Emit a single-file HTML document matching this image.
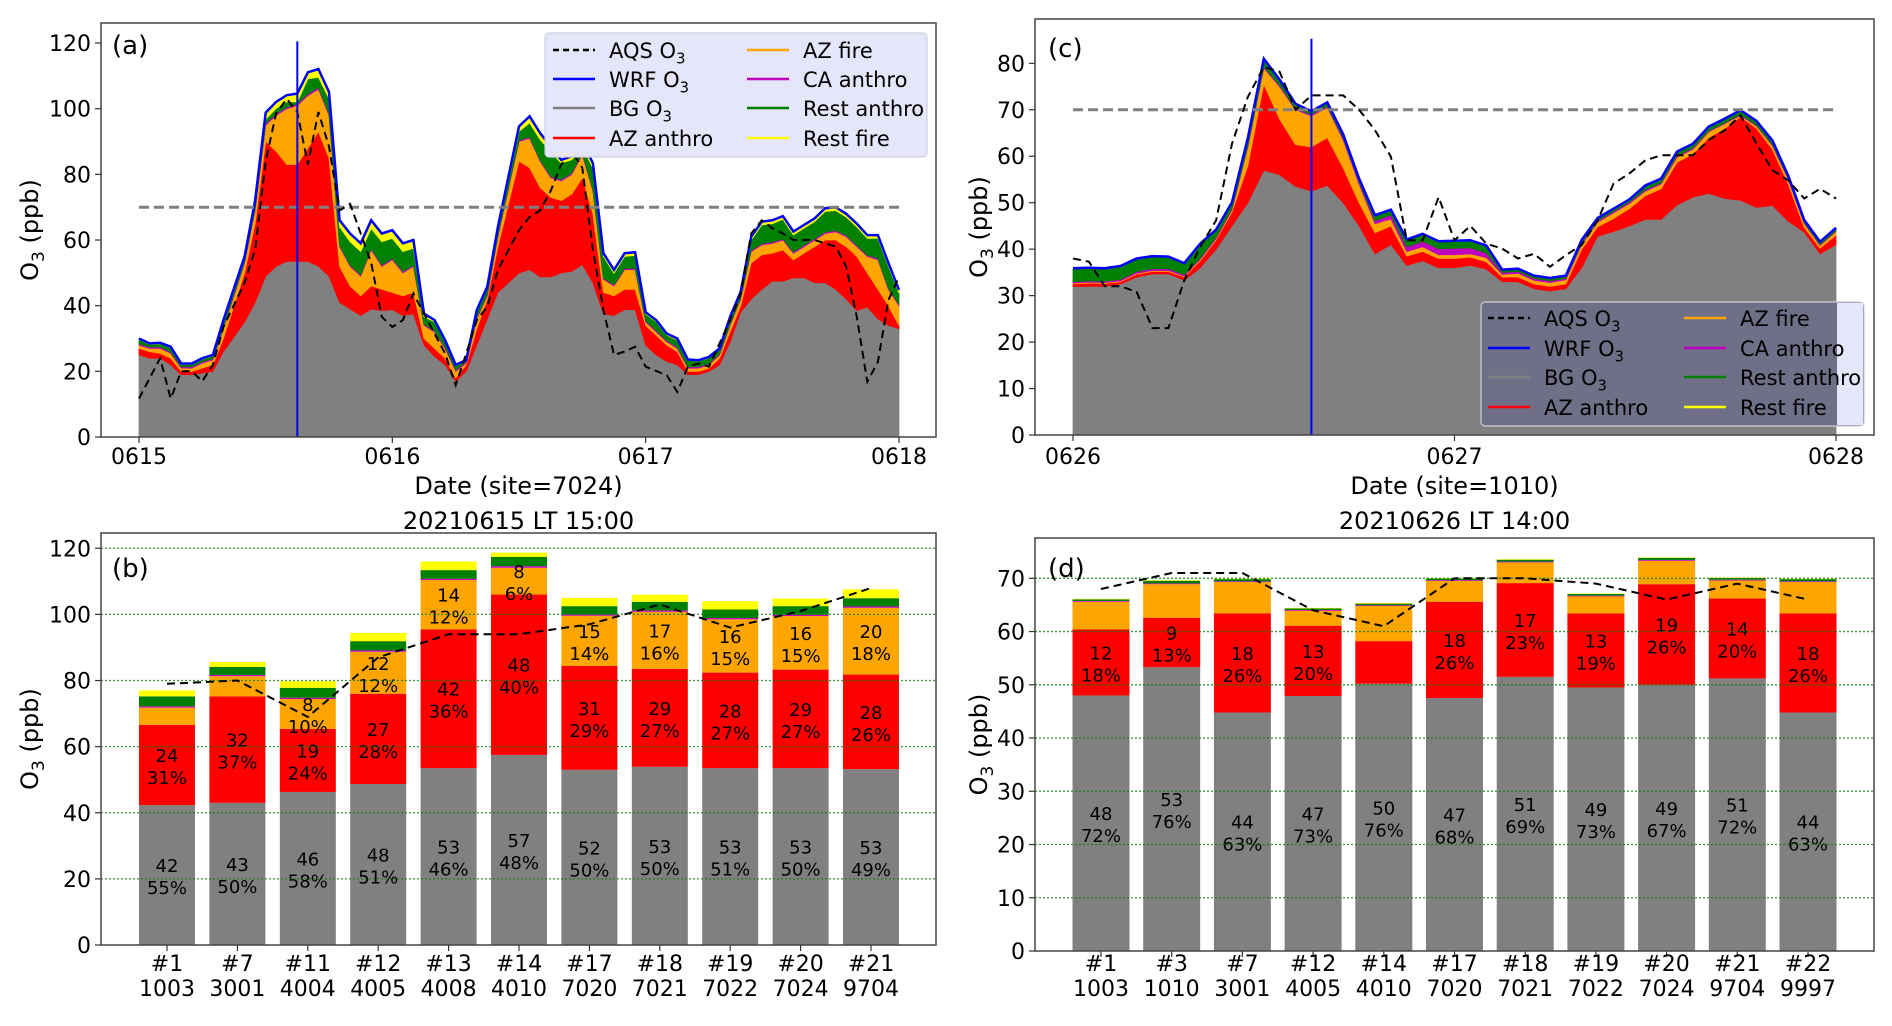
<!DOCTYPE html>
<html><head><meta charset="utf-8">
<style>
html,body{margin:0;padding:0;background:#fff;}
svg{display:block;font-family:"DejaVu Sans","Liberation Sans",sans-serif;}
</style></head>
<body>
<svg id="fig" width="1892" height="1026" viewBox="0 0 1892 1026" xmlns="http://www.w3.org/2000/svg">
<rect x="0" y="0" width="1892" height="1026" fill="#fff"/>
</svg>
<script>
// ---------- Panel (a) data: site 7024, hours since 0615 00:00 ----------
const hoursA = [0,1,2,3,4,5,6,7,8,10,11,12,13,14,15,16,17,18,19,20,21,22,23,24,25,26,27,28,29,30,31,32,33,34,36,37,38,39,40,41,42,43,44,45,46,47,48,49,50,51,52,53,54,55,56,57,58,59,60,61,62,63,64,65,66,67,68,69,70,71,72];
const bgA = [25,24,24,22,19,19,19.5,20,26,35,41,49,52,53.5,53.5,53.5,52,49,41,39,37,39,38.5,38.8,37,37.5,28,24.5,22,17,20,28,36,44,50,51,48.8,48.8,50,50.5,52.5,47,37.5,37,38.8,38.8,28,25,23,22,19,19,20,22,29,38,42,45,47.5,47.5,48.5,48.5,47,47,45,42,38.5,39.6,36,34,33];
const azAnthroA = [2,2,1.5,2,1,1,1.5,2,4,15,24,41,35,29.5,29.5,34.5,41,36,11,7,6,7,6.5,5.2,6,6.5,2,2.5,2,1,2,5,6,14,34,31,27.2,24.2,22,23.5,26.5,21,6.5,6,6.2,6.2,6,6,5,4,1,1,1,2,3,2,11,10.5,8.5,9.5,5.5,7.5,11,13,15,16,16.5,10.4,9,6,1];
const azFireA = [1,1,1.5,1.5,1,1,1.5,1.5,3,3,4,5,11,17,18,16,13,13,6,6,6,11,7,10,7,8,4,5,3,2,0.5,3,1,3,6,9,8,6,6,6,7,7,4,3,6,6,1,1,1,1,1,1,1,1,2,2,3.5,3,3,3,2,2,2,2,2.5,3,3,5,9,5,6];
const caAnthroA = [0.4,0.4,0.4,0.4,0.4,0.4,0.4,0.4,0.4,0.4,0.4,0.5,0.5,0.5,0.5,0.5,0.5,0.5,0.4,0.4,0.4,0.4,0.4,0.4,0.4,0.4,0.4,0.4,0.4,0.4,0.4,0.4,0.4,0.4,0.4,0.4,0.4,0.4,0.4,0.4,0.4,0.4,0.4,0.4,0.4,0.4,0.4,0.4,0.4,0.4,0.4,0.4,0.4,0.4,0.4,0.4,0.4,0.4,0.4,0.4,0.4,0.4,0.4,0.4,0.4,0.4,0.4,0.4,0.4,0.4,0.4];
const restAnthroA = [1.3,0.8,1,1.3,0.7,0.7,0.8,0.8,1.7,1.1,1.6,1.3,1.6,1.6,0.6,4.6,3.1,4.6,5.6,7.1,7.1,6.1,7.1,6.1,6.1,5.1,2.2,2.7,1.6,1.3,0.2,1.8,1.9,2.1,2.7,4.3,6.2,7.6,5,4.1,2.1,6.5,6.6,3.5,3.6,3.9,2.1,2.7,1.6,2.1,1.9,1.7,1.7,1.3,1.7,1.4,3.1,5.7,5.6,5.9,5.2,5.2,5.2,6.3,6.1,5.6,5.6,5.1,6.1,6.6,3.4];
const restFireA = [0.3,0.3,0.3,0.3,0.3,0.3,0.3,0.3,0.5,0.5,1,2,2,2,2.5,2,2.5,2,2,2.5,2.5,2.5,2.5,2.5,2.5,2.5,1,0.5,0.5,0.3,0.3,0.5,0.5,0.5,1.5,2,2,1.5,1,1,1.5,1.5,1,1,1,1,0.5,0.5,0.5,0.5,0.3,0.3,0.3,0.3,0.5,0.5,1,1,1,1,1,1,1,1,1,1,1,1,1,1,1];
const aqsHoursA = [0,2,3,4,5,6,7,8,10,11,12,13,14,15,16,17,18,19,20,21,22,23,24,25,26,27,29,30,31,32,33,34,36,37,38,39,40,41,42,43,44,45,46,47,48,50,51,52,53,54,56,57,58,59,60,61,62,64,66,67,68,69,70,71,72];
const aqsA = [11.7,24,11.7,20,20,17,22,33.5,47,57,84,98.7,103,99,83,99,88.5,69,71,62,53,36.6,33.5,35.6,43.7,37.6,25.4,15.8,25.4,35.6,39.7,50.9,63,67,69,75,83,87,82,57,38.7,25,26,27.5,21.4,18.8,13.7,21.4,22.4,21.4,35.6,43.7,62,66,63.6,62,60,60,58,51.9,36.6,16.8,22.9,41.7,48.8];
const dayTicksA = ["0615","0616","0617","0618"];
const yTicksA = [0,20,40,60,80,100,120];
const markHourA = 15;

// ---------- Panel (c) data: site 1010, hours since 0626 00:00 ----------
const hoursC = [0,1,2,3,4,5,6,7,8,9,10,11,12,13,14,15,16,17,18,19,20,21,22,23,24,25,26,27,28,29,30,31,32,33,34,35,36,37,38,39,40,41,42,43,44,45,46,47,48];
const bgC = [32,32,32,32.5,34,34.7,34.7,33.3,36,40,45,50,57,56,53.5,52.5,53.7,50,45,39,41,36.5,37.5,36,36,36.5,35.7,33,33,31.5,31,31.5,36,42.8,43.8,45,46.4,46.4,49.5,51.2,52,50.9,50.5,49,49.4,46,43.7,39,41];
const azAnthroC = [0.5,0.7,0.6,0.5,0.6,0.5,0.5,0.7,1.5,2,3,8,18.5,12,9,9.5,10.3,7.5,5,4.5,4,2,2,2,2,1.8,1.6,1,1,1,1,1,4,2,2.8,3.7,5.1,6.6,9.2,9.3,12,15.1,18,17,12.1,8,1,1.2,2];
const azFireC = [0.2,0.2,0.2,0.2,0.2,0.2,0.2,0.2,0.3,0.3,0.5,4,3.5,7,7.5,6.7,6.5,6,4,2,1.5,1,1,0.8,0.8,0.7,0.9,0.6,0.8,0.8,0.8,0.9,1,1,1.2,1.1,1,1,1.1,1,1.3,1,0.3,0.5,0.8,1,0.8,0.6,0.8];
const caAnthroC = [0.3,0.3,0.3,0.3,0.4,0.4,0.4,0.3,0.3,0.3,0.3,0.3,0.3,0.3,0.3,0.3,0.3,0.4,0.5,0.6,0.9,1,1.2,1.3,1.4,1.3,1,0.4,0.4,0.4,0.4,0.3,0.3,0.3,0.3,0.3,0.3,0.3,0.3,0.3,0.2,0.2,0.2,0.2,0.2,0.2,0.2,0.2,0.2];
const restAnthroC = [2.8,2.7,2.7,2.8,2.7,2.6,2.5,2.4,3,1.5,1.2,1.5,1.5,1,0.8,0.5,0.6,0.6,0.6,1.1,1,1.5,1.5,1.5,1.5,1.5,1.5,0.5,0.5,0.5,0.5,0.5,0.6,0.5,0.5,0.5,0.8,0.8,0.8,0.8,0.8,0.8,0.8,0.8,0.8,0.5,0.5,0.5,0.5];
const restFireC = [0.1,0.1,0.1,0.1,0.1,0.1,0.1,0.1,0.1,0.1,0.1,0.2,0.2,0.2,0.2,0.2,0.2,0.2,0.1,0.1,0.1,0.1,0.1,0.1,0.1,0.1,0.1,0.1,0.1,0.1,0.1,0.1,0.1,0.1,0.1,0.1,0.1,0.1,0.1,0.1,0.1,0.1,0.1,0.1,0.1,0.1,0.1,0.1,0.1];
const aqsHoursC = [0,1,2,3,4,5,6,7,8,9,10,11,12,13,14,15,16,17,18,19,20,21,22,23,24,25,26,27,28,29,30,31,32,33,34,35,36,37,38,39,40,41,42,43,44,45,46,47,48];
const aqsC = [38,37.3,32,32,30.8,23,23,33.3,40.5,46.2,62.7,72.8,79.2,78.2,70,73.1,73.1,73.1,70,65.6,59.9,41.9,41.9,51.2,41.9,45,41.2,40.1,38,39,36.2,38.7,40.9,46.2,54.1,56.3,59.1,60.2,60.2,60.2,63.5,65.6,68.8,62.7,57,54.8,50.9,53,50.9];
const dayTicksC = ["0626","0627","0628"];
const yTicksC = [0,10,20,30,40,50,60,70,80];
const markHourC = 15;

// ---------- Panel (b) data: 20210615 LT 15:00 ----------
const sitesB = ["#1","#7","#11","#12","#13","#14","#17","#18","#19","#20","#21"];
const siteIdsB = ["1003","3001","4004","4005","4008","4010","7020","7021","7022","7024","9704"];
const bgB = [42.3,43,46.3,48.7,53.5,57.5,53,53.9,53.5,53.5,53.2];
const azAnthroB = [24.3,32.2,19.1,27.3,42,48.5,31.4,29.6,28.9,29.8,28.6];
const azFireB = [5.2,6.1,9,12.7,14.9,8.1,15.2,17.3,16.1,16.2,20.2];
const caAnthroB = [0.4,0.4,0.4,0.4,0.4,0.5,0.4,0.4,0.4,0.4,0.4];
const restAnthroB = [3,2.4,3,2.8,2.6,2.8,2.5,2.6,2.6,2.6,2.5];
const restFireB = [1.8,1.5,2,2.5,2.6,1.3,2.5,2.2,2.5,2.3,2.7];
const aqsB = [79,80,69,87,94,94,97,103,96,101,108];
const bgLblB = ["42","43","46","48","53","57","52","53","53","53","53"];
const bgPctB = ["55%","50%","58%","51%","46%","48%","50%","50%","51%","50%","49%"];
const azaLblB = ["24","32","19","27","42","48","31","29","28","29","28"];
const azaPctB = ["31%","37%","24%","28%","36%","40%","29%","27%","27%","27%","26%"];
const azfLblB = ["","","8","12","14","8","15","17","16","16","20"];
const azfPctB = ["","","10%","12%","12%","6%","14%","16%","15%","15%","18%"];
const yTicksB = [0,20,40,60,80,100,120];

// ---------- Panel (d) data: 20210626 LT 14:00 ----------
const sitesD = ["#1","#3","#7","#12","#14","#17","#18","#19","#20","#21","#22"];
const siteIdsD = ["1003","1010","3001","4005","4010","7020","7021","7022","7024","9704","9997"];
const bgD = [48,53.3,44.8,47.9,50.2,47.5,51.5,49.5,50,51.2,44.8];
const azAnthroD = [12.4,9.3,18.6,13.2,8,18.1,17.6,13.9,18.9,15,18.6];
const azFireD = [5.2,6.3,5.9,2.8,6.6,3.9,3.9,3.2,4.4,3.4,5.9];
const caAnthroD = [0.15,0.15,0.15,0.15,0.15,0.15,0.15,0.15,0.15,0.15,0.15];
const restAnthroD = [0.3,0.5,0.4,0.3,0.3,0.3,0.35,0.3,0.4,0.3,0.4];
const restFireD = [0.1,0.1,0.1,0.1,0.1,0.1,0.1,0.1,0.1,0.1,0.1];
const aqsD = [68,71,71,64,61,70,70,69,66,69,66];
const bgLblD = ["48","53","44","47","50","47","51","49","49","51","44"];
const bgPctD = ["72%","76%","63%","73%","76%","68%","69%","73%","67%","72%","63%"];
const azaLblD = ["12","9","18","13","","18","17","13","19","14","18"];
const azaPctD = ["18%","13%","26%","20%","","26%","23%","19%","26%","20%","26%"];
const yTicksD = [0,10,20,30,40,50,60,70];

const standard = 70;
const COLORS = ["#808080","#ff0000","#ffa500","#bf00bf","#008000","#ffff00"];
const NS = "http://www.w3.org/2000/svg";
const svg = document.getElementById("fig");

function el(tag, attrs, parent) {
  const e = document.createElementNS(NS, tag);
  for (const k in attrs) e.setAttribute(k, attrs[k]);
  (parent || svg).appendChild(e);
  return e;
}
function txt(str, x, y, size, anchor, parent) {
  const t = el("text", {x: x, y: y, "font-size": size, "text-anchor": anchor || "middle", fill: "#000"}, parent);
  t.textContent = str;
  return t;
}
function o3Text(prefix, x, y, size, anchor, parent) {
  const t = el("text", {x: x, y: y, "font-size": size, "text-anchor": anchor || "start", fill: "#000"}, parent);
  t.appendChild(document.createTextNode(prefix + "O"));
  const s = document.createElementNS(NS, "tspan");
  s.setAttribute("font-size", size * 0.7);
  s.setAttribute("dy", size * 0.25);
  s.textContent = "3";
  t.appendChild(s);
  return t;
}
function yLabel(cx, cy, parent) {
  const g = el("g", {transform: "translate(" + cx + "," + cy + ") rotate(-90)"}, parent);
  const t = el("text", {x: 0, y: 8, "font-size": 24, "text-anchor": "middle", fill: "#000"}, g);
  t.appendChild(document.createTextNode("O"));
  const s = document.createElementNS(NS, "tspan");
  s.setAttribute("font-size", 17); s.setAttribute("dy", 6); s.textContent = "3";
  t.appendChild(s);
  const s2 = document.createElementNS(NS, "tspan");
  s2.setAttribute("dy", -6); s2.textContent = " (ppb)";
  t.appendChild(s2);
  return t;
}
function yAxis(ticks, yf, left, parent) {
  ticks.forEach(v => {
    el("line", {x1: left - 6, x2: left, y1: yf(v), y2: yf(v), stroke: "#333", "stroke-width": 1.2}, parent);
    txt(String(v), left - 10, yf(v) + 8, 22, "end", parent);
  });
}
function frame(x0, y0, x1, y1, parent) {
  el("rect", {x: x0, y: y0, width: x1 - x0, height: y1 - y0, fill: "none", stroke: "#444", "stroke-width": 1.5}, parent);
}

// ---------- time-series panel ----------
function timePanel(cfg) {
  const g = el("g", {});
  
  
  const xf = h => cfg.x0 + h * cfg.hpx;
  const yf = v => cfg.base - v * cfg.vpx;
  const layers = cfg.layers;
  const n = cfg.hours.length;
  let lower = new Array(n).fill(0);
  const names = ["bg-o3-area","az-anthro-area","az-fire-area","ca-anthro-area","rest-anthro-area","rest-fire-area"];
  layers.forEach((arr, li) => {
    const upper = lower.map((l, i) => l + arr[i]);
    let d = "";
    for (let i = 0; i < n; i++) d += (i ? "L" : "M") + xf(cfg.hours[i]).toFixed(1) + "," + yf(upper[i]).toFixed(1);
    for (let i = n - 1; i >= 0; i--) d += "L" + xf(cfg.hours[i]).toFixed(1) + "," + yf(lower[i]).toFixed(1);
    const p = el("path", {d: d + "Z", fill: COLORS[li], stroke: COLORS[li], "stroke-width": 0.8}, g);
    
    
    lower = upper;
  });
  // WRF total
  let dw = "";
  for (let i = 0; i < n; i++) dw += (i ? "L" : "M") + xf(cfg.hours[i]).toFixed(1) + "," + yf(lower[i]).toFixed(1);
  const wl = el("path", {d: dw, fill: "none", stroke: "#0000ff", "stroke-width": 2.5}, g);
  
  
  // standard line
  const sl = el("line", {x1: xf(cfg.hours[0]), x2: xf(cfg.hours[n - 1]), y1: yf(standard), y2: yf(standard), stroke: "#808080", "stroke-width": 3, "stroke-dasharray": "10,5"}, g);
  
  
  // AQS
  let da = "";
  cfg.aqsH.forEach((h, i) => { da += (i ? "L" : "M") + xf(h).toFixed(1) + "," + yf(cfg.aqs[i]).toFixed(1); });
  const al = el("path", {d: da, fill: "none", stroke: "#000", "stroke-width": 2, "stroke-dasharray": "8,5"}, g);
  
  
  // marker line
  const ml = el("line", {x1: xf(cfg.mark), x2: xf(cfg.mark), y1: yf(0), y2: yf(cfg.markTop), stroke: "#0000ff", "stroke-width": 2}, g);
  
  
  frame(cfg.ax0, cfg.ay0, cfg.ax1, cfg.ay1, g);
  yAxis(cfg.yTicks, yf, cfg.ax0, g);
  cfg.days.forEach((lab, i) => {
    const x = xf(i * 24);
    el("line", {x1: x, x2: x, y1: cfg.ay1, y2: cfg.ay1 + 6, stroke: "#333", "stroke-width": 1.2}, g);
    txt(lab, x, 464, 22, "middle", g);
  });
  const xl = txt(cfg.xlabel, (cfg.ax0 + cfg.ax1) / 2, 494, 24, "middle", g);
  
  
  const yl = yLabel(cfg.ylx, (cfg.ay0 + cfg.ay1) / 2, g);
  
  
  const pl = txt(cfg.tag, cfg.tagX, cfg.tagY, 26, "start", g);
  
  
  return g;
}

function legend(x, y, w, h, rowYs, c1, c2, fill, extra) {
  const g = el("g", {});
  
  
  el("rect", {x: x, y: y, width: w, height: h, rx: 4, fill: fill, stroke: "#cfcfdf", "stroke-width": 1.2}, g);
  if (extra) el("rect", {x: extra, y: y + 1, width: x + w - extra - 1, height: h - 2, fill: "#e6e6fa"}, g);
  const items = [
    ["AQS ", true, "#000", true], ["WRF ", true, "#0000ff", false], ["BG ", true, "#808080", false], ["AZ anthro", false, "#ff0000", false],
    ["AZ fire", false, "#ffa500", false], ["CA anthro", false, "#bf00bf", false], ["Rest anthro", false, "#008000", false], ["Rest fire", false, "#ffff00", false]
  ];
  items.forEach((it, i) => {
    const col = i < 4 ? c1 : c2;
    const ry = rowYs[i % 4];
    const ln = el("line", {x1: col, x2: col + 42, y1: ry, y2: ry, stroke: it[2], "stroke-width": 2.5}, g);
    if (it[3]) ln.setAttribute("stroke-dasharray", "6,4");
    const t = it[1] ? o3Text(it[0], col + 56, ry + 8, 21, "start", g) : txt(it[0], col + 56, ry + 8, 21, "start", g);
    
    
  });
}

timePanel({name: "panel-a-timeseries", x0: 139, hpx: 760 / 72, base: 437, vpx: 3.283,
  hours: hoursA, layers: [bgA, azAnthroA, azFireA, caAnthroA, restAnthroA, restFireA],
  aqsH: aqsHoursA, aqs: aqsA, mark: markHourA, markTop: 120.5, ax0: 101, ay0: 23, ax1: 936, ay1: 437,
  yTicks: yTicksA, days: dayTicksA, xlabel: "Date (site=7024)", ylx: 30, tag: "(a)", tagX: 112, tagY: 54});
legend(545, 33, 382, 124, [50, 79, 108, 138], 553, 747, "#e6e6fa", 0);

timePanel({name: "panel-c-timeseries", x0: 1073, hpx: 763 / 48, base: 435, vpx: 4.646,
  hours: hoursC, layers: [bgC, azAnthroC, azFireC, caAnthroC, restAnthroC, restFireC],
  aqsH: aqsHoursC, aqs: aqsC, mark: markHourC, markTop: 85.3, ax0: 1035, ay0: 19, ax1: 1874, ay1: 435,
  yTicks: yTicksC, days: dayTicksC, xlabel: "Date (site=1010)", ylx: 979, tag: "(c)", tagX: 1048, tagY: 57});
legend(1481, 302, 383, 124, [318, 348, 377, 407], 1488, 1684, "#6f6f87", 1837);

// ---------- bar panels ----------
function barPanel(cfg) {
  const g = el("g", {});
  
  
  const xf = i => cfg.c0 + i * cfg.step;
  const yf = v => cfg.base - v * cfg.vpx;
  cfg.sites.forEach((s, i) => {
    let low = 0;
    cfg.layers.forEach((arr, li) => {
      const top = low + arr[i];
      const r = el("rect", {x: xf(i) - cfg.bw / 2, y: yf(top), width: cfg.bw, height: Math.max(0, yf(low) - yf(top)), fill: COLORS[li]}, g);
      
      
      low = top;
    });
    // labels
    const addLbl = (val, pct, lo, hi) => {
      if (!val) return;
      const mid = yf((lo + hi) / 2);
      txt(val, xf(i), mid - 3, 18, "middle", g);
      txt(pct, xf(i), mid + 19, 18, "middle", g);
    };
    const b = cfg.layers[0][i], a = cfg.layers[1][i], f = cfg.layers[2][i];
    addLbl(cfg.bgL[i], cfg.bgP[i], 0, b);
    addLbl(cfg.aaL[i], cfg.aaP[i], b, b + a);
    if (cfg.afL) addLbl(cfg.afL[i], cfg.afP[i], b + a, b + a + f);
    el("line", {x1: xf(i), x2: xf(i), y1: cfg.ay1, y2: cfg.ay1 + 6, stroke: "#333", "stroke-width": 1.2}, g);
    txt(s, xf(i), 971, 22, "middle", g);
    txt(cfg.ids[i], xf(i), 996, 22, "middle", g);
  });
  // grid
  cfg.yTicks.forEach(v => {
    if (v === 0) return;
    const gl = el("line", {x1: cfg.ax0, x2: cfg.ax1, y1: yf(v), y2: yf(v), stroke: "#008000", "stroke-width": 1.3, "stroke-dasharray": "2,2", opacity: 0.8}, g);
    
    
  });
  let d = "";
  cfg.aqs.forEach((v, i) => { d += (i ? "L" : "M") + xf(i).toFixed(1) + "," + yf(v).toFixed(1); });
  const al = el("path", {d: d, fill: "none", stroke: "#000", "stroke-width": 2, "stroke-dasharray": "8,5"}, g);
  
  
  frame(cfg.ax0, cfg.ay0, cfg.ax1, cfg.ay1, g);
  yAxis(cfg.yTicks, yf, cfg.ax0, g);
  const yl = yLabel(cfg.ylx, (cfg.ay0 + cfg.ay1) / 2, g);
  
  
  const tt = txt(cfg.title, (cfg.ax0 + cfg.ax1) / 2, 529, 24, "middle", g);
  
  
  const pl = txt(cfg.tag, cfg.tagX, cfg.tagY, 26, "start", g);
  
  
}

barPanel({name: "panel-b-bars", c0: 167, step: 70.4, bw: 56, base: 945, vpx: 3.306,
  sites: sitesB, ids: siteIdsB, layers: [bgB, azAnthroB, azFireB, caAnthroB, restAnthroB, restFireB],
  aqs: aqsB, bgL: bgLblB, bgP: bgPctB, aaL: azaLblB, aaP: azaPctB, afL: azfLblB, afP: azfPctB,
  ax0: 101, ay0: 533, ax1: 936, ay1: 945, yTicks: yTicksB, ylx: 30, title: "20210615 LT 15:00", tag: "(b)", tagX: 112, tagY: 577});

barPanel({name: "panel-d-bars", c0: 1101, step: 70.7, bw: 57, base: 951, vpx: 5.324,
  sites: sitesD, ids: siteIdsD, layers: [bgD, azAnthroD, azFireD, caAnthroD, restAnthroD, restFireD],
  aqs: aqsD, bgL: bgLblD, bgP: bgPctD, aaL: azaLblD, aaP: azaPctD, afL: null, afP: null,
  ax0: 1035, ay0: 538, ax1: 1874, ay1: 951, yTicks: yTicksD, ylx: 979, title: "20210626 LT 14:00", tag: "(d)", tagX: 1048, tagY: 577});
</script>
</body></html>
